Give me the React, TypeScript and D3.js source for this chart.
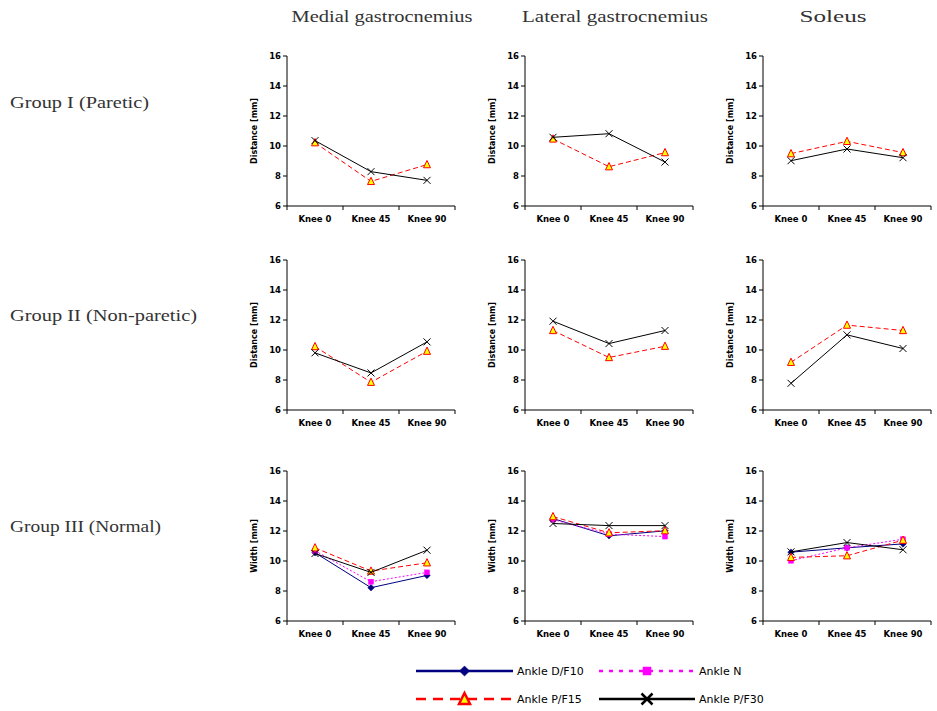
import React from 'react';
import * as d3 from 'd3';

const categories = ['Knee 0', 'Knee 45', 'Knee 90'];
const muscles = ['Medial gastrocnemius', 'Lateral gastrocnemius', 'Soleus'];
const groups = ['Group I (Paretic)', 'Group II (Non-paretic)', 'Group III (Normal)'];
const yLabels = ['Distance [mm]', 'Distance [mm]', 'Width [mm]'];
const yTicks = [6, 8, 10, 12, 14, 16];
const seriesNames = ['Ankle D/F10', 'Ankle N', 'Ankle P/F15', 'Ankle P/F30'];

// values[groupRow][muscleCol] = [Knee 0, Knee 45, Knee 90]; null = not measured
const ankleDF10: (number[] | null)[][] = [
  [null, null, null],
  [null, null, null],
  [[10.55, 8.22, 9.04], [12.83, 11.68, 12.01], [10.59, 10.88, 11.14]],
];
const ankleN: (number[] | null)[][] = [
  [null, null, null],
  [null, null, null],
  [[10.68, 8.62, 9.24], [12.76, 11.79, 11.63], [10.02, 10.88, 11.45]],
];
const anklePF15: (number[] | null)[][] = [
  [[10.22, 7.64, 8.76], [10.47, 8.62, 9.56], [9.49, 10.31, 9.56]],
  [[10.23, 7.85, 9.92], [11.3, 9.5, 10.25], [9.18, 11.66, 11.3]],
  [[10.88, 9.33, 9.88], [12.96, 11.88, 12.02], [10.24, 10.35, 11.39]],
];
const anklePF30: (number[] | null)[][] = [
  [[10.36, 8.29, 7.71], [10.58, 10.82, 8.93], [9.02, 9.8, 9.22]],
  [[9.81, 8.47, 10.54], [11.92, 10.43, 11.3], [7.78, 11.01, 10.1]],
  [[10.5, 9.24, 10.72], [12.5, 12.36, 12.36], [10.61, 11.23, 10.75]],
];

type Style = {
  color: string;
  dash: string;
  legendDash: string;
  marker: 'diamond' | 'square' | 'triangle' | 'x';
  fill: string;
};
const styles: Style[] = [
  { color: '#000080', dash: 'none', legendDash: 'none', marker: 'diamond', fill: '#000080' },
  { color: '#FF00FF', dash: '2,2', legendDash: '4,6', marker: 'square', fill: '#FF00FF' },
  { color: '#FF0000', dash: '5,3', legendDash: '10,7', marker: 'triangle', fill: '#FFFF00' },
  { color: '#000000', dash: 'none', legendDash: 'none', marker: 'x', fill: 'none' },
];
const seriesData = [ankleDF10, ankleN, anklePF15, anklePF30];

const colX = [287, 525, 763];
const rowTop = [56, 260, 471];
const plotW = 168;
const plotH = 150;

function Marker({ type, x, y, s, st, sw }: { type: string; x: number; y: number; s: number; st: Style; sw: number }) {
  if (type === 'diamond') {
    const p = d3.symbol(d3.symbolDiamond2, s * s * 0.55)();
    return <path d={p as string} transform={`translate(${x},${y})`} fill={st.fill} stroke={st.color} strokeWidth={0.5} />;
  }
  if (type === 'square') {
    return <rect x={x - s / 2} y={y - s / 2} width={s} height={s} fill={st.fill} stroke={st.color} strokeWidth={0.5} />;
  }
  if (type === 'triangle') {
    const h = s * 0.9;
    const pts = `${x},${y - h / 2 - 1} ${x + s / 2},${y + h / 2} ${x - s / 2},${y + h / 2}`;
    return <polygon points={pts} fill={st.fill} stroke={st.color} strokeWidth={sw} strokeLinejoin="miter" />;
  }
  const r = s / 2;
  return (
    <g stroke={st.color} strokeWidth={sw}>
      <line x1={x - r} y1={y - r} x2={x + r} y2={y + r} />
      <line x1={x - r} y1={y + r} x2={x + r} y2={y - r} />
    </g>
  );
}

function Panel({ row, col }: { row: number; col: number }) {
  const x0 = colX[col];
  const y0 = rowTop[row];
  const xBand = d3.scaleBand<string>().domain(categories).range([0, plotW]).padding(0);
  const y = d3.scaleLinear().domain([6, 16]).range([plotH, 0]);
  const line = d3
    .line<number>()
    .x((_, i) => xBand(categories[i])! + xBand.bandwidth() / 2)
    .y((d) => y(d));
  const tickFont = { fontFamily: 'DejaVu Sans, Verdana, sans-serif', fontWeight: 700 as const, fontSize: 8.5 };
  const edges = [0, ...categories.map((c) => xBand(c)! + xBand.bandwidth())];
  return (
    <g transform={`translate(${x0},${y0})`}>
      <line x1={0} y1={0} x2={0} y2={plotH} stroke="#000" strokeWidth={1} />
      <line x1={0} y1={plotH} x2={plotW} y2={plotH} stroke="#000" strokeWidth={1} />
      {yTicks.map((t) => (
        <g key={t}>
          <line x1={-4} x2={0} y1={y(t)} y2={y(t)} stroke="#000" />
          <text x={-6} y={y(t)} dy="0.35em" textAnchor="end" {...tickFont}>
            {t}
          </text>
        </g>
      ))}
      {edges.map((e, i) => (
        <line key={i} x1={e} x2={e} y1={plotH} y2={plotH + 4} stroke="#000" />
      ))}
      {categories.map((c) => (
        <text key={c} x={xBand(c)! + xBand.bandwidth() / 2} y={plotH + 16} textAnchor="middle" {...tickFont}>
          {c}
        </text>
      ))}
      <text
        transform={`translate(-33,${plotH / 2}) rotate(-90)`}
        textAnchor="middle"
        dy="0.35em"
        {...tickFont}
        fontSize={8}
      >
        {yLabels[row]}
      </text>
      {seriesData.map((sd, si) => {
        const vals = sd[row][col];
        if (!vals) return null;
        const st = styles[si];
        return (
          <g key={si}>
            <path d={line(vals) as string} fill="none" stroke={st.color} strokeWidth={1} strokeDasharray={st.dash} />
            {vals.map((v, i) => (
              <Marker
                key={i}
                type={st.marker}
                x={xBand(categories[i])! + xBand.bandwidth() / 2}
                y={y(v)}
                s={st.marker === 'square' ? 5 : 7}
                st={st}
                sw={1}
              />
            ))}
          </g>
        );
      })}
    </g>
  );
}

export default function App() {
  const titleX = [382, 615, 833];
  const titleLen = [181, 186, 67];
  const rowY = [108, 321, 532];
  const rowLen = [139, 187, 151];
  const legendPos = [
    { x1: 416, x2: 513, y: 671 },
    { x1: 599, x2: 695, y: 671 },
    { x1: 416, x2: 513, y: 699 },
    { x1: 599, x2: 695, y: 699 },
  ];
  const serif = 'Liberation Serif, DejaVu Serif, serif';
  return (
    <div style={{ position: 'absolute', left: 0, top: 0 }}>
      <svg width={937} height={711} style={{ display: 'block', background: '#fff' }}>
        {muscles.map((m, i) => (
          <text
            key={m}
            x={titleX[i]}
            y={22}
            textAnchor="middle"
            fontFamily={serif}
            fontSize={17}
            textLength={titleLen[i]}
            lengthAdjust="spacingAndGlyphs"
            fill="#333"
          >
            {m}
          </text>
        ))}
        {groups.map((g, i) => (
          <text
            key={g}
            x={10}
            y={rowY[i]}
            fontFamily={serif}
            fontSize={16}
            textLength={rowLen[i]}
            lengthAdjust="spacingAndGlyphs"
            fill="#333"
          >
            {g}
          </text>
        ))}
        {[0, 1, 2].map((r) => [0, 1, 2].map((c) => <Panel key={`${r}-${c}`} row={r} col={c} />))}
        {seriesNames.map((n, i) => {
          const p = legendPos[i];
          const st = styles[i];
          const mx = (p.x1 + p.x2) / 2;
          return (
            <g key={n}>
              <line
                x1={p.x1}
                x2={p.x2}
                y1={p.y}
                y2={p.y}
                stroke={st.color}
                strokeWidth={2.5}
                strokeDasharray={st.legendDash}
              />
              <Marker type={st.marker} x={mx} y={p.y} s={st.marker === 'square' ? 8 : 11} st={st} sw={2.5} />
              <text x={p.x2 + 4} y={p.y} dy="0.35em" fontFamily="DejaVu Sans, sans-serif" fontSize={11}>
                {n}
              </text>
            </g>
          );
        })}
      </svg>
    </div>
  );
}
